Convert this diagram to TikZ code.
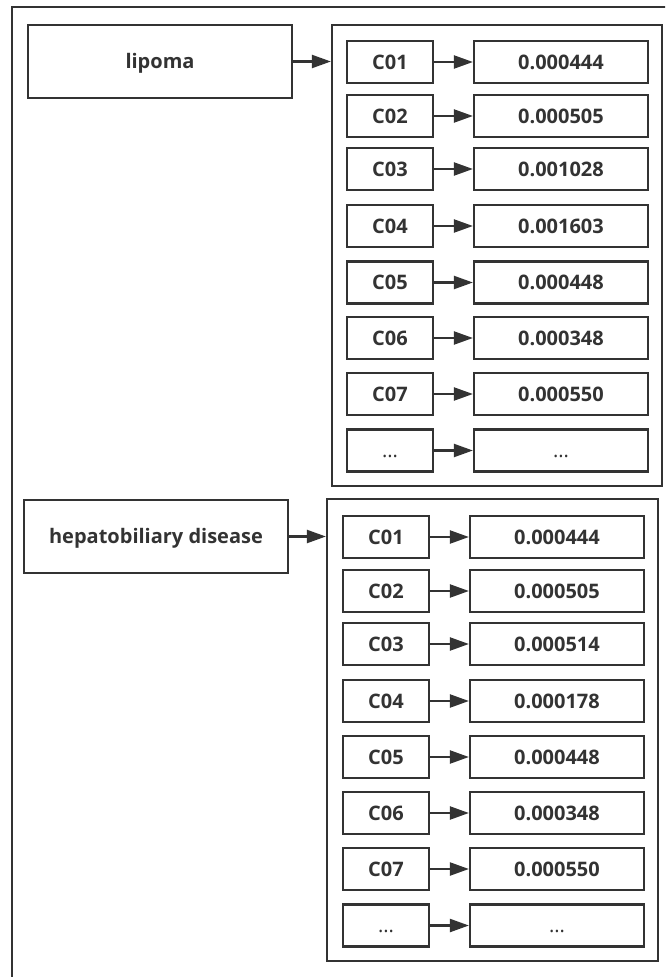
\documentclass[tikz,border=0pt]{standalone}
\usepackage{fontspec}
\setmainfont{Open Sans}
\usetikzlibrary{arrows.meta}
\definecolor{ink}{HTML}{333333}
\newcommand{\moredots}{\mdseries...}
\tikzset{
  box/.style={draw=ink, line width=2.2pt, rectangle, inner sep=0pt,
    text=ink, font=\fontsize{20}{22}\selectfont\bfseries,
    text height=14.4pt, text depth=0pt},
  keybox/.style={box, minimum width=86pt, minimum height=42pt},
  valbox/.style={box, minimum width=174pt, minimum height=42pt},
  groupbox/.style={draw=ink, line width=2.2pt, rectangle, inner sep=0pt},
  namebox/.style={box, minimum width=264pt, minimum height=73pt},
  link/.style={draw=ink, line width=2.2pt, -{Triangle[length=19pt,width=13pt]}},
}
\begin{document}
\begin{tikzpicture}[x=1pt,y=-1pt]
\useasboundingbox (0,0) rectangle (665,977);
\clip (0,0) rectangle (665,977);
% outer frame
\draw[draw=ink, line width=2.2pt] (12,7) rectangle (700,1000);

% first disease
\node[namebox] (d1) at (160,61.5) {lipoma};
\node[groupbox, minimum width=330pt, minimum height=461pt] (g1) at (497,255.5) {};
\draw[link] (d1.east) -- (g1.west |- d1.east);

\foreach \i/\y/\k/\v in {1/62/C01/0.000444, 2/116/C02/0.000505, 3/169/C03/0.001028,
    4/226/C04/0.001603, 5/282.5/C05/0.000448, 6/338/C06/0.000348,
    7/394/C07/0.000550, 8/450.5/\moredots/\moredots}{
  \node[keybox] (a\i) at (390,\y) {\k};
  \node[valbox] (b\i) at (561,\y) {\v};
  \draw[link] (a\i) -- (b\i);
}

% second disease
\node[namebox] (d2) at (156,536.5) {hepatobiliary disease};
\node[groupbox, minimum width=331pt, minimum height=462pt] (g2) at (492.5,730) {};
\draw[link] (d2.east) -- (g2.west |- d2.east);

\foreach \i/\y/\k/\v in {1/537/C01/0.000444, 2/591/C02/0.000505, 3/644/C03/0.000514,
    4/701/C04/0.000178, 5/757/C05/0.000448, 6/813/C06/0.000348,
    7/869/C07/0.000550, 8/925.5/\moredots/\moredots}{
  \node[keybox] (c\i) at (386,\y) {\k};
  \node[valbox] (e\i) at (557,\y) {\v};
  \draw[link] (c\i) -- (e\i);
}
\end{tikzpicture}
\end{document}
